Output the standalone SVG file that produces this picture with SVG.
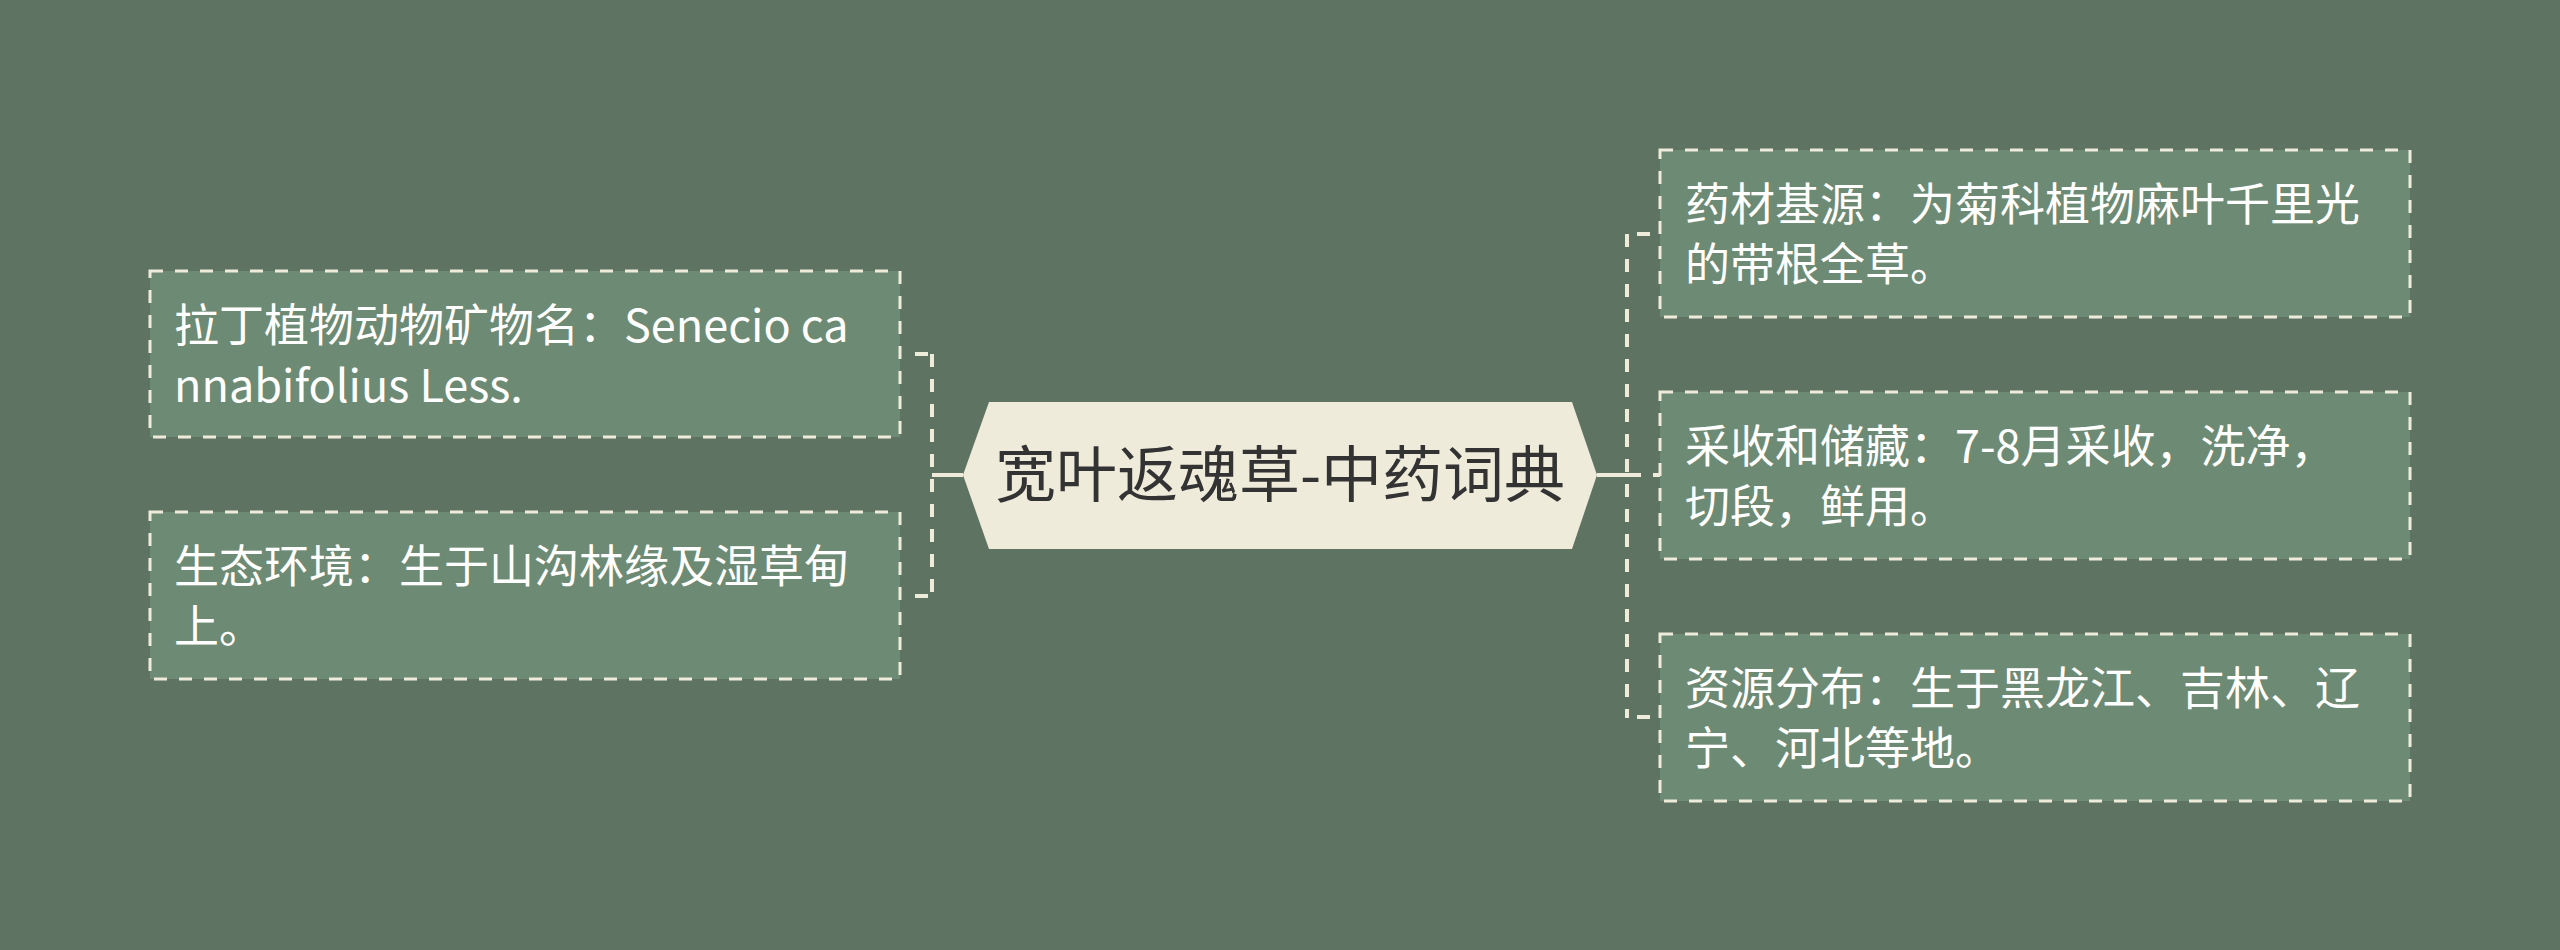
<svg xmlns="http://www.w3.org/2000/svg" width="2560" height="950" viewBox="0 0 2560 950">
<style>
.bg{fill:#5f7363}
.box{fill:#6d8a74;stroke:#efebdb;stroke-width:3;stroke-dasharray:13 12}
.txt{font-family:"Noto Sans CJK SC","Noto Sans",sans-serif;font-size:45px;fill:#ffffff}
.ctr{fill:#efebdb}
.ctxt{font-family:"Noto Sans CJK SC","Noto Sans",sans-serif;font-size:61px;fill:#333333}
.ln{stroke:#efebdb;stroke-width:4;fill:none}
.dl{stroke:#efebdb;stroke-width:4;fill:none;stroke-dasharray:13 12}
</style>
<rect class="bg" x="0" y="0" width="2560" height="950"/>
<g id="connectors">
<line class="ln" x1="932" y1="475" x2="963" y2="475"/>
<line class="dl" x1="932" y1="354" x2="932" y2="597"/>
<line class="ln" x1="915" y1="354" x2="928" y2="354"/>
<line class="ln" x1="915" y1="596" x2="928" y2="596"/>
<line class="ln" x1="1597" y1="475" x2="1641" y2="475"/>
<line class="dl" x1="1627" y1="234" x2="1627" y2="718"/>
<line class="ln" x1="1637" y1="234" x2="1650" y2="234"/>
<line class="ln" x1="1637" y1="717" x2="1650" y2="717"/>
<line class="ln" x1="1653" y1="475" x2="1660" y2="475"/>
</g>
<g id="center">
<polygon class="ctr" points="963,475 989,402 1572,402 1597,475 1572,549 989,549"/>
<text class="ctxt" x="1280" y="497" text-anchor="middle">宽叶返魂草-中药词典</text>
</g>
<g id="left1">
<rect class="box" x="150" y="271" width="750" height="166"/>
<text class="txt" x="174" y="342"><tspan x="174">拉丁植物动物矿物名：Senecio ca</tspan><tspan x="174" y="402">nnabifolius Less.</tspan></text>
</g>
<g id="left2">
<rect class="box" x="150" y="512" width="750" height="167"/>
<text class="txt" x="174" y="583"><tspan x="174">生态环境：生于山沟林缘及湿草甸</tspan><tspan x="174" y="643">上。</tspan></text>
</g>
<g id="right1">
<rect class="box" x="1660" y="150" width="750" height="167"/>
<text class="txt" x="1685" y="221"><tspan x="1685">药材基源：为菊科植物麻叶千里光</tspan><tspan x="1685" y="281">的带根全草。</tspan></text>
</g>
<g id="right2">
<rect class="box" x="1660" y="392" width="750" height="167"/>
<text class="txt" x="1685" y="463"><tspan x="1685">采收和储藏：7-8月采收，洗净，</tspan><tspan x="1685" y="523">切段，鲜用。</tspan></text>
</g>
<g id="right3">
<rect class="box" x="1660" y="634" width="750" height="167"/>
<text class="txt" x="1685" y="705"><tspan x="1685">资源分布：生于黑龙江、吉林、辽</tspan><tspan x="1685" y="765">宁、河北等地。</tspan></text>
</g>
</svg>
